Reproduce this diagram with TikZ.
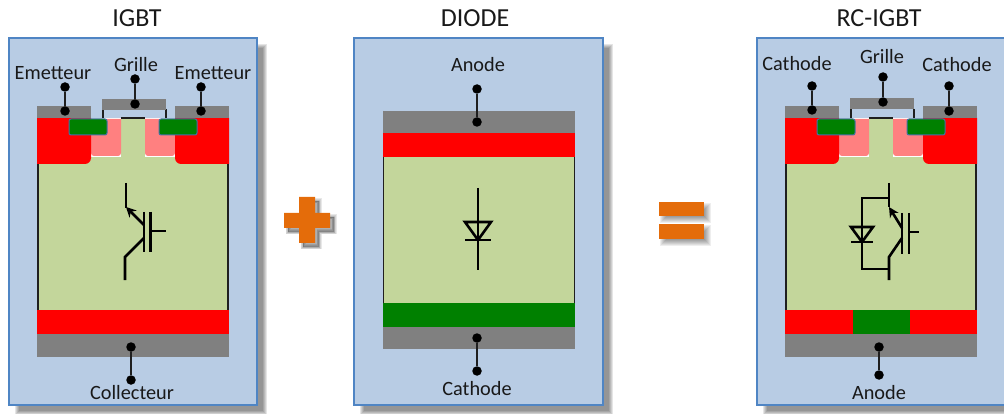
\documentclass[tikz,border=0pt]{standalone}
\usepackage{fontspec}
\setmainfont{Carlito}
\usetikzlibrary{arrows.meta}
\definecolor{panelfill}{HTML}{B8CCE4}
\definecolor{panelline}{HTML}{4F85C4}
\definecolor{bodygreen}{HTML}{C3D69B}
\definecolor{metal}{HTML}{808080}
\definecolor{dopedgreen}{HTML}{008000}
\definecolor{pinkzone}{HTML}{FF8080}
\definecolor{signorange}{HTML}{E46C0A}
\definecolor{wirecol}{HTML}{1F1F1F}
\tikzset{
  panel/.style={fill=panelfill,draw=panelline,line width=1.2pt},
  metalbox/.style={fill=metal},
  redzone/.style={fill=red},
  greenzone/.style={fill=dopedgreen},
  wellgreen/.style={fill=dopedgreen,draw=panelline!85!black,line width=1pt,rounded corners=2pt},
  bodybox/.style={fill=bodygreen},
  side/.style={draw=wirecol,line width=1.5pt},
  dotn/.style={circle,fill=black,inner sep=0pt,minimum size=9.5pt},
  wire/.style={draw=wirecol,line width=1.8pt},
  lab/.style={inner sep=0pt,yshift=-0.8pt,font=\fontsize{20.3}{22}\selectfont,text=black!90},
  titlelab/.style={inner sep=0pt,font=\fontsize{26}{28}\selectfont,text=black!90},
  sym/.style={draw=black,line width=2.6pt,line join=miter},
  symarrow/.style={draw=black,line width=2.6pt,-{Stealth[length=10pt,width=10pt]}},
}
\newcommand{\softrect}[4]{%
  \foreach \d in {-2,-1,0,1,2}{\fill[black,opacity=.1] (#1+8-\d,#2+8-\d) rectangle (#3+8+\d,#4+8+\d);}}
\newcommand{\softsign}[4]{%
  \foreach \d in {-3,-2,-1,0,1,2,3}{\fill[black,opacity=.065] (#1+4-\d,#2+4-\d) rectangle (#3+4+\d,#4+4+\d);}}
\newcommand{\plusshape}{(299,197) -- (315,197) -- (315,213) -- (330,213) -- (330,228) -- (315,228) -- (315,243) -- (299,243) -- (299,228) -- (284,228) -- (284,213) -- (299,213) -- cycle}
% top structure: #1 = x shift
\newcommand{\topcell}[1]{%
  \begin{scope}[shift={(#1,0)}]
  \fill[white] (91,118) rectangle (121,157);
  \fill[white] (145,118) rectangle (175,157);
  \fill[panelfill] (103,109) rectangle (166,118);
  \fill[pinkzone] (91,119) -- (121,119) [rounded corners=3pt] -- (121,156) -- (91,156) [sharp corners] -- cycle;
  \fill[pinkzone] (175,119) -- (145,119) [rounded corners=3pt] -- (145,156) -- (175,156) [sharp corners] -- cycle;
  \fill[redzone] (37,118) -- (91,118) [rounded corners=6pt] -- (91,164) [sharp corners] -- (37,164) -- cycle;
  \fill[redzone] (229,118) -- (175,118) [rounded corners=6pt] -- (175,164) [sharp corners] -- (229,164) -- cycle;
  \path[wellgreen] (69,119) -- (107,119) -- (107,135) -- (69,135) -- cycle;
  \path[wellgreen] (159,119) -- (197,119) -- (197,135) -- (159,135) -- cycle;
  \draw[side] (103,109) -- (103,118);
  \draw[side] (166,109) -- (166,118);
  \draw[side] (121,118) -- (145,118);
  \fill[metalbox] (37,106) rectangle (91,118);
  \fill[metalbox] (175,106) rectangle (229,118);
  \end{scope}}
\begin{document}
\begin{tikzpicture}[x=1pt,y=-1pt]
\useasboundingbox (0,0) rectangle (1004,414);
% panels
\softrect{9}{38}{257}{405}
\softrect{354}{38}{603}{405}
\softrect{757}{38}{1010}{405}
\path[panel] (9,38) rectangle (257,405);
\path[panel] (354,38) rectangle (603,405);
\path[panel] (757,38) rectangle (1010,405);
% IGBT
\fill[bodybox] (38,118) rectangle (228,310);
\draw[side] (38,160) -- (38,310);
\draw[side] (228,160) -- (228,310);
\topcell{0}
\fill[metalbox] (102,99) rectangle (166,110);
\fill[redzone] (37,310) rectangle (229,334);
\fill[metalbox] (37,334) rectangle (229,357);
% Diode
\fill[bodybox] (383,133) rectangle (575,303);
\draw[side] (383.5,111) -- (383.5,349);
\draw[side] (574.5,111) -- (574.5,349);
\fill[metalbox] (383,111) rectangle (575,133);
\fill[redzone] (383,133) rectangle (575,157);
\fill[greenzone] (383,303) rectangle (575,327);
\fill[metalbox] (383,327) rectangle (575,349);
% RC-IGBT
\fill[bodybox] (786,118) rectangle (976,310);
\draw[side] (786,160) -- (786,310);
\draw[side] (976,160) -- (976,310);
\topcell{748}
\fill[metalbox] (850,98) rectangle (914,109);
\fill[redzone] (785,310) rectangle (853,334);
\fill[greenzone] (853,310) rectangle (910,334);
\fill[redzone] (910,310) rectangle (977,334);
\fill[metalbox] (785,334) rectangle (977,357);
% signs
\foreach \d in {0.5,2,3.5,5}{\path[fill=black,draw=black,opacity=.09,line width=\d pt,shift={(4,4)}] \plusshape;}
\fill[signorange] \plusshape;
\softsign{659}{202}{704}{216}
\softsign{659}{224}{704}{239}
\fill[signorange] (659,202) rectangle (704,216);
\fill[signorange] (659,224) rectangle (704,239);
% titles
\node[titlelab] (t1) at (137,18) {IGBT};
\node[titlelab] (t2) at (475,18) {DIODE};
\node[titlelab] (t3) at (879,18) {RC-IGBT};
% IGBT labels
\node[lab] (e1) at (53,72) {Emetteur};
\node[lab] (g1) at (136,64) {Grille};
\node[lab] (e2) at (213,72) {Emetteur};
\node[lab] (c1) at (132,392) {Collecteur};
\node[dotn] (e1a) at (65,87) {};   \node[dotn] (e1b) at (65,111) {};
\node[dotn] (g1a) at (135,79) {};  \node[dotn] (g1b) at (135,104) {};
\node[dotn] (e2a) at (201,87) {};  \node[dotn] (e2b) at (201,111) {};
\node[dotn] (c1a) at (131,347) {}; \node[dotn] (c1b) at (131,380) {};
\draw[wire] (e1a) -- (e1b); \draw[wire] (g1a) -- (g1b); \draw[wire] (e2a) -- (e2b); \draw[wire] (c1a) -- (c1b);
% Diode labels
\node[lab] (a2) at (478,64) {Anode};
\node[lab] (k2) at (477,388) {Cathode};
\node[dotn] (a2a) at (477,89) {};  \node[dotn] (a2b) at (477,122) {};
\node[dotn] (k2a) at (477,338) {}; \node[dotn] (k2b) at (477,371) {};
\draw[wire] (a2a) -- (a2b); \draw[wire] (k2a) -- (k2b);
% RC labels
\node[lab] (k3) at (797,63) {Cathode};
\node[lab] (g3) at (882,56) {Grille};
\node[lab] (k4) at (957,64) {Cathode};
\node[lab] (a3) at (879,392) {Anode};
\node[dotn] (k3a) at (812,86) {};  \node[dotn] (k3b) at (812,110) {};
\node[dotn] (g3a) at (883,77) {};  \node[dotn] (g3b) at (883,102) {};
\node[dotn] (k4a) at (949,86) {};  \node[dotn] (k4b) at (949,111) {};
\node[dotn] (a3a) at (879,347) {}; \node[dotn] (a3b) at (879,375) {};
\draw[wire] (k3a) -- (k3b); \draw[wire] (g3a) -- (g3b); \draw[wire] (k4a) -- (k4b); \draw[wire] (a3a) -- (a3b);
% IGBT symbol
\draw[sym] (126,183) -- (126,208);
\draw[symarrow] (144,225) -- (126,207);
\draw[sym] (144,212) -- (144,252);
\draw[sym] (150.5,212) -- (150.5,252);
\draw[sym] (151,231) -- (166,231);
\draw[sym] (144,238) -- (125,257) -- (125,280);
% Diode symbol
\draw[sym] (478,188) -- (478,270);
\draw[sym] (465,222) -- (491,222) -- (478,240) -- cycle;
\draw[sym] (465,240) -- (491,240);
% RC-IGBT symbol
\draw[sym] (889,183) -- (889,207);
\draw[symarrow] (902,228) -- (889,207);
\draw[sym] (902,238) -- (889,257) -- (889,280);
\draw[sym] (889,198) -- (862,198) -- (862,269) -- (889,269);
\draw[sym] (902,213) -- (902,254);
\draw[sym] (909,213) -- (909,254);
\draw[sym] (909,232) -- (919,232);
\draw[sym] (851,227) -- (873,227) -- (862,242) -- cycle;
\draw[sym] (851,242) -- (873,242);
\end{tikzpicture}
\end{document}
